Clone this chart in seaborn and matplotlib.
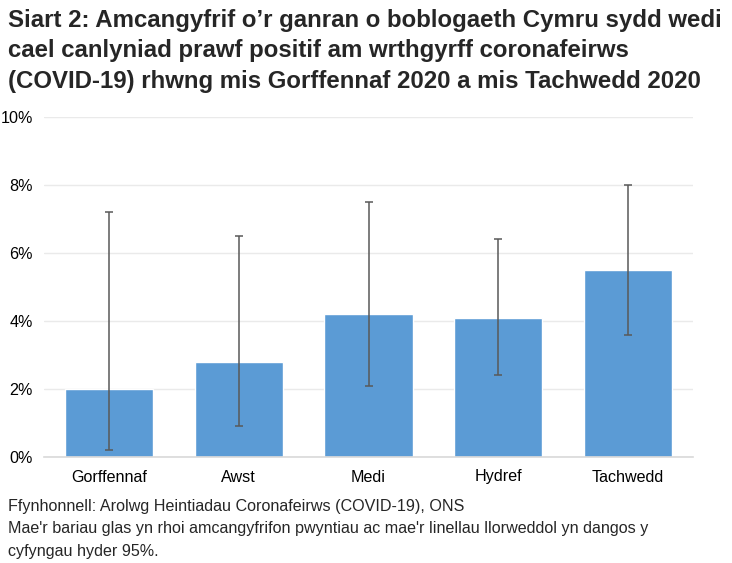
import pandas as pd
import numpy as np
import matplotlib
matplotlib.use("Agg")
import matplotlib.pyplot as plt
import seaborn as sns

# data (percent)
months = ["Gorffennaf", "Awst", "Medi", "Hydref", "Tachwedd"]
estimate = [2.0, 2.8, 4.2, 4.1, 5.5]
lower = [0.2, 0.9, 2.1, 2.4, 3.6]
upper = [7.2, 6.5, 7.5, 6.4, 8.0]
yticks = [0, 2, 4, 6, 8, 10]

title_lines = [
    "Siart 2: Amcangyfrif o\u2019r ganran o boblogaeth Cymru sydd wedi",
    "cael canlyniad prawf positif am wrthgyrff coronafeirws",
    "(COVID-19) rhwng mis Gorffennaf 2020 a mis Tachwedd 2020",
]
note_lines = [
    "Ffynhonnell: Arolwg Heintiadau Coronafeirws (COVID-19), ONS",
    "Mae'r bariau glas yn rhoi amcangyfrifon pwyntiau ac mae'r linellau llorweddol yn dangos y",
    "cyfyngau hyder 95%.",
]

df = pd.DataFrame({"month": months, "estimate": estimate, "lower": lower, "upper": upper})

sns.set_style("white")
plt.rcParams["font.family"] = ["Liberation Sans", "DejaVu Sans"]

fig = plt.figure(figsize=(7.32, 5.63), dpi=100)
ax = fig.add_axes([44 / 732, 106 / 563, 649 / 732, 340 / 563])

sns.barplot(data=df, x="month", y="estimate", color="#5B9BD5", saturation=1,
            width=0.68, errorbar=None, ax=ax, zorder=2)

# confidence intervals
yerr = np.array([df["estimate"] - df["lower"], df["upper"] - df["estimate"]])
ax.errorbar(range(len(df)), df["estimate"], yerr=yerr, fmt="none",
            ecolor="#595959", elinewidth=1.1, capsize=3, capthick=1.1, zorder=3)

ax.set_ylim(0, 10)
ax.set_xlim(-0.5, len(months) - 0.5)
ax.set_yticks(yticks)
ax.set_yticklabels([f"{t}%" for t in yticks])
ax.set_xlabel("")
ax.set_ylabel("")
ax.grid(axis="y", color="#EAEAEA", linewidth=1, zorder=0)
ax.set_axisbelow(True)
for side in ["top", "right", "left"]:
    ax.spines[side].set_visible(False)
ax.spines["bottom"].set_color("#D9D9D9")
ax.spines["bottom"].set_linewidth(1.2)
ax.tick_params(axis="both", length=0, labelsize=11.6, colors="#000000")
ax.tick_params(axis="x", pad=9)
ax.tick_params(axis="y", pad=8)

# title
for i, line in enumerate(title_lines):
    fig.text(8 / 732, 1 - (27 + i * 30.5) / 563, line, fontsize=17.3, fontweight="bold",
             ha="left", va="baseline")

# notes
for i, line in enumerate(note_lines):
    fig.text(8 / 732, 1 - (511 + i * 22.5) / 563, line, fontsize=11.6,
             ha="left", va="baseline")

fig.savefig("out.png", dpi=100)
